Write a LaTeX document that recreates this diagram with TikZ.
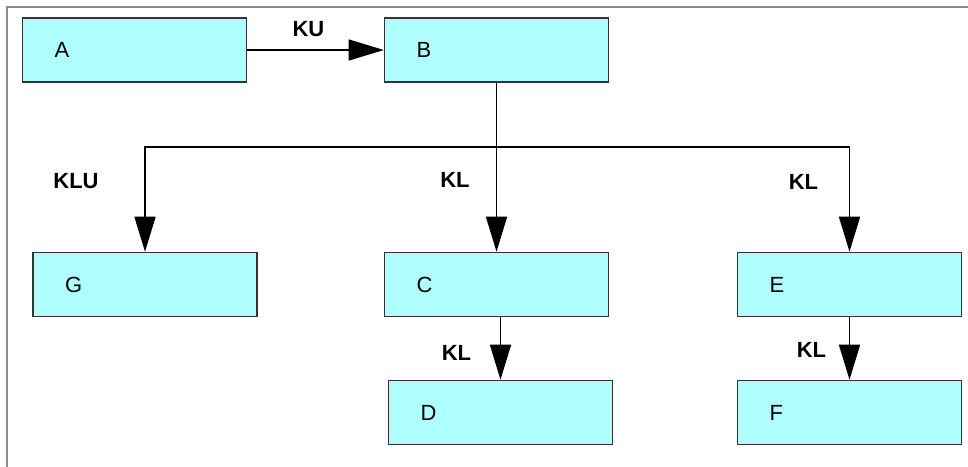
\documentclass[tikz,border=0pt]{standalone}
\usepackage{fontspec}
\setmainfont{Liberation Sans}
\usepackage{tikz}
\usetikzlibrary{positioning,arrows.meta}
\definecolor{boxcyan}{RGB}{176,255,255}
\definecolor{edgegray}{RGB}{51,51,51}
\definecolor{framegray}{RGB}{140,140,140}

\begin{document}
\begin{tikzpicture}[x=0.02cm,y=-0.02cm,>={Triangle[length=0.7cm,width=0.42cm]},
  every node/.style={font=\fontsize{12.5}{15}\selectfont},
  blk/.style={draw=edgegray,fill=boxcyan,line width=0.9pt,minimum height=1.28cm,
    text width=3.2cm,inner xsep=0.64cm,align=left},
  conn/.style={draw=black,line width=0.85pt},
  rel/.style={font=\fontsize{12.5}{15}\selectfont\bfseries}]
\useasboundingbox (0,0) rectangle (968,467);
\fill[white] (0,0) rectangle (968,467);
\draw[framegray,line width=1.1pt] (7,467)--(7,7)--(968,7);
% blocks
\node[blk] (A) at (134.5,50) {A};
\node[blk] (B) at (496.5,50) {B};
\node[blk] (G) at (145,284.5) {G};
\node[blk] (C) at (496.5,284.5) {C};
\node[blk] (E) at (849.5,284.5) {E};
\node[blk] (D) at (500.5,412.5) {D};
\node[blk] (F) at (849.5,412.5) {F};
% branch point
\coordinate (split) at (496.5,147);
% connectors
\draw[conn,->] (A) -- (B);
\draw[conn] (B.south) -- (split);
\draw[conn,->] (split) -- (C.north);
\draw[conn,->] (split) -| (G.north);
\draw[conn,->] (split) -| (E.north);
\draw[conn,->] (C.south -| D.north) -- (D.north);
\draw[conn,->] (E) -- (F);
% labels
\node[rel] (ku) at (308.5,29.5) {KU};
\node[rel] (klu) at (76,181.5) {KLU};
\node[rel] (klc) at (455,180) {KL};
\node[rel] (kle) at (803.5,182) {KL};
\node[rel] (kld) at (456.5,353) {KL};
\node[rel] (klf) at (811.5,350) {KL};
\end{tikzpicture}
\end{document}
